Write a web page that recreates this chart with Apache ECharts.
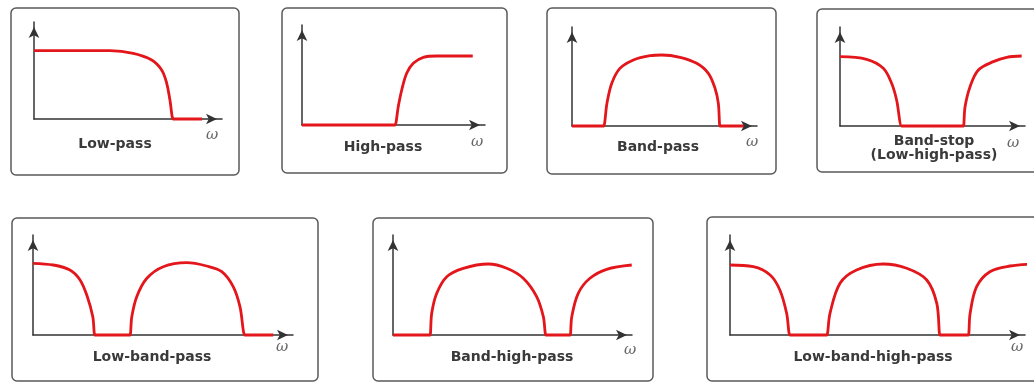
<!DOCTYPE html>
<html>
<head>
<meta charset="utf-8">
<script src="https://cdn.jsdelivr.net/npm/echarts@6/dist/echarts.min.js"></script>
<style>
  html, body { margin: 0; padding: 0; background: #fff; }
  #chart { width: 1034px; height: 383px; }
</style>
</head>
<body>
<div id="chart"></div>
<script>
// response curves, x and y in % of each panel's axis length
const lowPass = [[0,70.4],[40.4,70.4],[52.8,67.7],[62.6,60.8],[67.9,50.5],[70.6,36.8],[72.3,19.6],[74.1,0],[75,0],[89.4,0]]
const highPass = [[0,0],[50.3,0],[50.8,0],[52.6,18.3],[54.5,35],[57.2,51.7],[60.8,61.7],[66.3,67.7],[73.6,69],[93.3,69]]
const bandPass = [[0,0],[16.5,0],[17.1,0],[18.9,22.9],[21.5,43.1],[25.9,58.2],[33.2,66.7],[42.2,71],[48.5,71.7],[58.4,69.4],[67.4,63.3],[73.7,53.2],[77.3,38.1],[79.1,22.9],[80,0],[80.6,0],[92.6,0]]
const bandStop = [[0,70],[14.4,67.4],[23.4,58.3],[27.9,43.1],[30.6,26.3],[33.3,0],[34,0],[66.1,0],[66.7,0],[67.6,19.5],[70.3,39.7],[74.8,56.6],[82.9,65],[90.1,69.4],[98.2,70.7]]
const lowBandPass = [[0,71.7],[7.8,70],[14.2,65],[18.1,55],[20.9,38.3],[23,18.3],[23.8,0],[24.4,0],[36.7,0],[37.3,0],[38,18.3],[39.9,38.3],[43.8,56.7],[50.1,68.3],[59.1,72.3],[66.8,69],[72.6,63.3],[77,48.3],[79.6,28.3],[81.5,0],[82.1,0],[92.4,0]]
const bandHighPass = [[0,0],[15,0],[15.5,0],[16.2,21.7],[18.3,41.7],[22.5,58.3],[29.4,66.7],[39.9,71],[47.6,66.7],[54.5,56.7],[60.1,38.3],[62.9,18.3],[64,0],[64.6,0],[73.5,0],[74.1,0],[74.8,18.3],[77.5,41.7],[82.4,56.7],[89.4,65.7],[99.9,70]]
const lowBandHighPass = [[0,70],[7.9,68.3],[13.6,60],[16.9,45],[19.2,21.7],[20.3,0],[20.8,0],[32.3,0],[32.8,0],[33.9,21.7],[37.3,51.7],[42.9,65],[51.9,71],[59.9,66.7],[66.7,55],[70.1,31.7],[71.2,0],[71.7,0],[80.3,0],[80.8,0],[81.4,21.7],[83.6,48.3],[88.1,63.3],[94.9,69],[102.8,71]]

const curves = [lowPass, highPass, bandPass, bandStop, lowBandPass, bandHighPass, lowBandHighPass]
const names = ['Low-pass', 'High-pass', 'Band-pass', 'Band-stop\n(Low-high-pass)', 'Low-band-pass', 'Band-high-pass', 'Low-band-high-pass']

// layout: axis origin x, arrow top y, axis length x, axis height y
const panels = [
    [34, 22, 188, 97],
    [302, 25, 183, 100],
    [572, 27, 185, 99],
    [840, 27, 185, 99],
    [33, 235, 260, 100],
    [393, 235, 239, 100],
    [730, 235, 295, 100]
]
// frames round each panel
const frames = [
    [11, 8, 228, 167],
    [282, 8, 225, 165],
    [547, 8, 229, 166],
    [817, 9, 240, 163],
    [12, 218, 306, 163],
    [373, 218, 280, 163],
    [707, 217, 340, 164]
]
const labelPos = [[115, 144], [383, 147], [658, 147], [934, 148], [152, 357], [512, 357], [873, 357]]
const omegaPos = [[212, 135], [477, 142], [752, 142], [1013, 143], [282, 347], [630, 350], [1017, 347]]

const axisCommon = {
    type: 'value',
    min: 0,
    max: 100,
    axisLine: {
        show: true,
        symbol: ['none', 'arrow'],
        symbolSize: [8, 11],
        symbolOffset: [0, -5],
        lineStyle: { color: '#333', width: 1.5 }
    },
    axisTick: { show: false },
    axisLabel: { show: false },
    splitLine: { show: false }
}

const grid = panels.map(p => ({ left: p[0], top: p[1], width: p[2], height: p[3], show: false }))
const xAxis = panels.map((p, i) => Object.assign({}, axisCommon, { gridIndex: i }))
const yAxis = panels.map((p, i) => Object.assign({}, axisCommon, { gridIndex: i }))
const series = curves.map((c, i) => ({
    type: 'line',
    xAxisIndex: i,
    yAxisIndex: i,
    data: c,
    smooth: 0.35,
    showSymbol: false,
    clip: false,
    lineStyle: { color: '#e3161b', width: 2.8 }
}))

const graphic = []
frames.forEach(f => {
    graphic.push({
        type: 'rect',
        shape: { x: f[0], y: f[1], width: f[2], height: f[3], r: 5 },
        style: { fill: 'none', stroke: '#5a5a5a', lineWidth: 1.5 },
        z: -1
    })
})
names.forEach((n, i) => {
    graphic.push({
        type: 'text',
        x: labelPos[i][0],
        y: labelPos[i][1],
        style: {
            text: n,
            fill: '#3a3a3a',
            font: 'bold 14px "DejaVu Sans"',
            align: 'center',
            verticalAlign: 'middle',
            lineHeight: 14
        }
    })
})
omegaPos.forEach(p => {
    graphic.push({
        type: 'text',
        x: p[0],
        y: p[1],
        style: {
            text: 'ω',
            fill: '#666',
            font: 'italic 15px "DejaVu Serif"',
            align: 'center',
            verticalAlign: 'middle'
        }
    })
})

const chart = echarts.init(document.getElementById('chart'))
chart.setOption({
    animation: false,
    backgroundColor: '#fff',
    grid,
    xAxis,
    yAxis,
    series,
    graphic
})
</script>
</body>
</html>
